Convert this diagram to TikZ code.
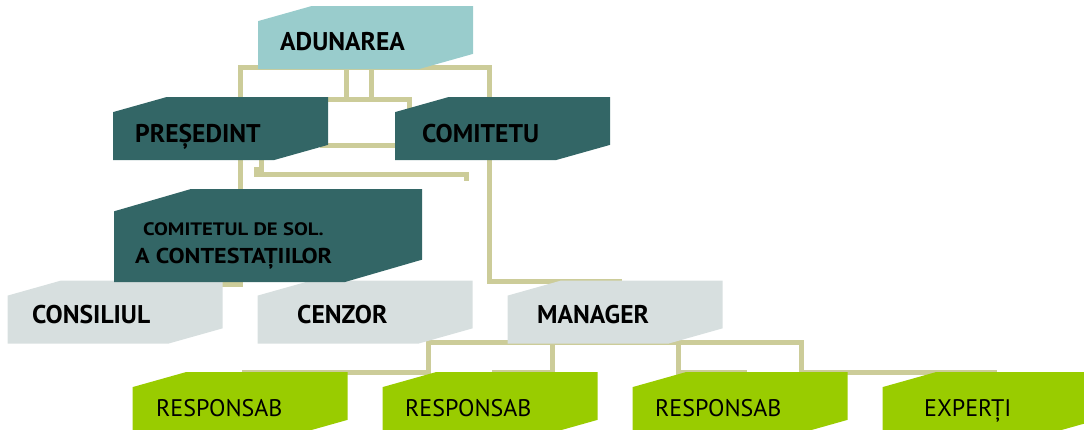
\documentclass[tikz,border=0pt]{standalone}
\usepackage{fontspec}
\usepackage{graphicx}
\setmainfont{PT Sans}
\usetikzlibrary{calc}
\definecolor{khaki}{HTML}{CCCC99}
\definecolor{darkteal}{HTML}{336666}
\definecolor{lightteal}{HTML}{99CCCC}
\definecolor{greybox}{HTML}{D7DFDF}
\definecolor{greenbox}{HTML}{99CC00}
\begin{document}
\begin{tikzpicture}[x=1pt,y=-1pt,
  conn/.style={draw=khaki, line width=5pt},
  box/.style={rectangle, inner sep=0pt, outer sep=0pt,
    minimum width=215pt, minimum height=63pt,
    path picture={
      \fill[#1] (path picture bounding box.south west)
        -- ($(path picture bounding box.north west)!0.24!(path picture bounding box.south west)$)
        -- ($(path picture bounding box.north west)!0.25!(path picture bounding box.north east)$)
        -- (path picture bounding box.north east)
        -- ($(path picture bounding box.south east)!0.24!(path picture bounding box.north east)$)
        -- ($(path picture bounding box.south east)!0.25!(path picture bounding box.south west)$)
        -- cycle;}},
  bigbox/.style={box=#1, minimum width=308pt, minimum height=93pt},
  lblb/.style={font=\bfseries\fontsize{25.6}{30}\selectfont, inner sep=0pt, anchor=base west},
  lblr/.style={font=\fontsize{24}{28}\selectfont, inner sep=0pt, anchor=base west},
]
\useasboundingbox (0,0) rectangle (1084,429);

% junction coordinates
\coordinate (f1) at (240,284);
\coordinate (f0) at (200,284);
\coordinate (f2) at (240,67);
\coordinate (f3) at (489,67);
\coordinate (f4) at (489,281);
\coordinate (f5) at (622,281);
\coordinate (s1a) at (346,67);
\coordinate (s1b) at (346,99);
\coordinate (s2a) at (371,67);
\coordinate (s2b) at (371,99);
\coordinate (h1a) at (320,99);
\coordinate (h1b) at (409,99);
\coordinate (h1c) at (409,115);
\coordinate (h2a) at (320,145);
\coordinate (h2b) at (400,145);
\coordinate (j1) at (261,158);
\coordinate (j2) at (261,169.5);
\coordinate (j3) at (256.5,169.5);
\coordinate (j4) at (256.5,174);
\coordinate (j5) at (466.5,174);
\coordinate (j6) at (466.5,181);
\coordinate (b1) at (428,372);
\coordinate (b2) at (428,342);
\coordinate (b3) at (801,342);
\coordinate (b4) at (801,372);
\coordinate (b5) at (552,342);
\coordinate (b6) at (552,372);
\coordinate (b7) at (678,342);
\coordinate (b8) at (678,372);
\coordinate (r1) at (242,372);
\coordinate (r2) at (492,372);
\coordinate (r3) at (747,372);
\coordinate (r4) at (997,372);

% connectors
\draw[conn] (f0) -- (f1) -- (f2) -- (f3) -- (f4) -- (f5);
\draw[conn] (s1a) -- (s1b);
\draw[conn] (s2a) -- (s2b);
\draw[conn] (h1a) -- (h1b) -- (h1c);
\draw[conn] (h2a) -- (h2b);
\draw[conn] (j1) -- (j2) -- (j3) -- (j4) -- (j5) -- (j6);
\draw[conn] (r1) -- (b1) -- (b2) -- (b3) -- (b4) -- (r4);
\draw[conn] (b5) -- (b6) -- (r2);
\draw[conn] (b7) -- (b8) -- (r3);

% boxes
\node[box=lightteal] (adunarea) at (365.5,37.5) {};
\node[box=darkteal] (presedint) at (220.5,128.5) {};
\node[box=darkteal] (comitetu) at (502.5,128.5) {};
\node[box=greybox] (consiliul) at (115,312) {};
\node[box=greybox] (cenzor) at (365,312) {};
\node[box=greybox] (manager) at (615,312) {};
\node[bigbox=darkteal] (comsol) at (268,235.5) {};
\node[box=greenbox] (resp1) at (240,403.5) {};
\node[box=greenbox] (resp2) at (490,403.5) {};
\node[box=greenbox] (resp3) at (740,403.5) {};
\node[box=greenbox] (experti) at (990,403.5) {};

% labels
\node[lblb] (t-adunarea) at (280,50) {ADUNAREA};
\node[lblb] (t-presedint) at (135,142) {PREȘEDINT};
\node[lblb] (t-comitetu) at (422,142) {COMITETU};
\node[lblb, font=\bfseries\fontsize{18}{21}\selectfont] (t-comsol1) at (143,235) {\scalebox{1.15}[1]{COMITETUL DE SOL.}};
\node[lblb, font=\bfseries\fontsize{21.5}{25}\selectfont] (t-comsol2) at (135,263) {\scalebox{1.12}[1]{A CONTESTAȚIILOR}};
\node[lblb] (t-consiliul) at (32,323) {CONSILIUL};
\node[lblb] (t-cenzor) at (297,323) {CENZOR};
\node[lblb] (t-manager) at (537,323) {MANAGER};
\node[lblr] (t-resp1) at (156,416) {RESPONSAB};
\node[lblr] (t-resp2) at (405,416) {RESPONSAB};
\node[lblr] (t-resp3) at (655,416) {RESPONSAB};
\node[lblr] (t-experti) at (924,416) {EXPERȚI};
\end{tikzpicture}
\end{document}
